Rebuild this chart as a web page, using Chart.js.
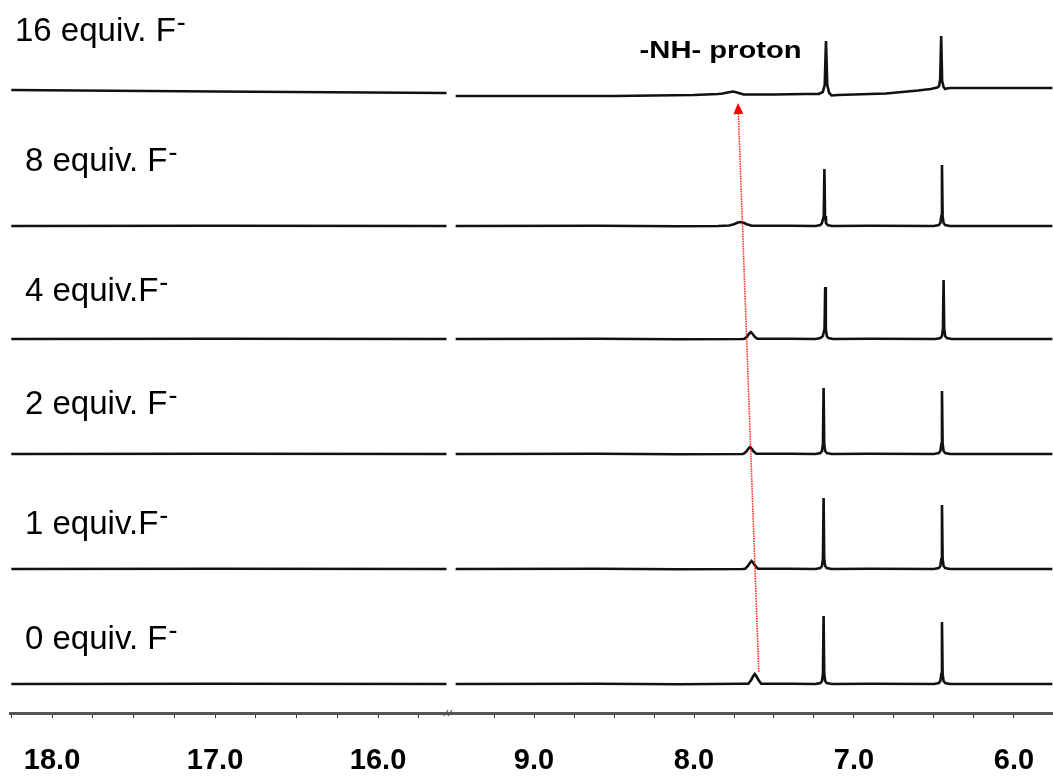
<!DOCTYPE html>
<html>
<head>
<meta charset="utf-8">
<script src="https://cdn.jsdelivr.net/npm/chart.js@4.4.1/dist/chart.umd.min.js"></script>
<style>
  html, body { margin: 0; padding: 0; background: #fff; }
  #wrap { width: 1053px; height: 776px; position: relative; }
</style>
</head>
<body>
<div id="wrap"><canvas id="nmr"></canvas></div>
<script>
// ---- data (ppm, intensity) ----
const traceLabels = ["16 equiv. F", "8 equiv. F", "4 equiv.F", "2 equiv. F", "1 equiv.F", "0 equiv. F"];
const tickLabelsL = ["18.0", "17.0", "16.0"];
const tickLabelsR = ["9.0", "8.0", "7.0", "6.0"];

// left window (18.2 - 15.6 ppm): only baseline
const spec16L = [[18.25, 5], [17.0, 3.5], [15.58, 2]];
const flatL = [[18.25, 0], [17.0, 0.3], [15.58, 0]];

// right window (9.5 - 5.8 ppm)
const spec16R = [[9.49, -1], [9.0, -1], [8.5, -1], [8.0, 0], [7.85, 1], [7.82, 1.5],
  [7.79, 2.5], [7.755, 3.5], [7.72, 2], [7.69, 0.5], [7.5, 0.5], [7.3, 1], [7.22, 1],
  [7.195, 3], [7.183, 10], [7.175, 54], [7.167, 10], [7.155, 2], [7.14, -0.5], [7.1, 0],
  [7.0, 0.5], [6.8, 1.5], [6.7, 3], [6.6, 4.5], [6.52, 6], [6.48, 7.5], [6.468, 9],
  [6.461, 16], [6.455, 59], [6.449, 14], [6.44, 8], [6.43, 6], [6.42, 6.5], [6.4, 7], [5.76, 7]];
const spec8R = [[9.49, 0], [8.6, 0.3], [8.1, -0.2], [7.85, 0], [7.78, 0.5], [7.75, 1.8],
  [7.73, 3.2], [7.71, 4], [7.69, 3.2], [7.67, 1.8], [7.64, 0.3], [7.4, 0.2], [7.24, 0],
  [7.21, 1], [7.2, 3], [7.189, 10], [7.185, 57], [7.181, 10], [7.175, 3], [7.165, 1],
  [7.14, 0], [6.9, 0.3], [6.5, 0], [6.47, 1], [6.46, 3], [6.454, 10], [6.45, 61],
  [6.446, 10], [6.44, 3], [6.43, 1], [6.4, 0], [5.76, 0]];
const spec4R = [[9.49, 0], [8.6, 0.3], [8.1, -0.2], [7.7, 0], [7.685, 0.3], [7.668, 2.5],
  [7.656, 5.2], [7.645, 7], [7.634, 5.2], [7.622, 2.5], [7.605, 0.3], [7.4, 0.2], [7.24, 0],
  [7.21, 1], [7.195, 3], [7.184, 10], [7.18, 52], [7.176, 10], [7.17, 3], [7.16, 1],
  [7.13, 0], [6.9, 0.3], [6.49, 0], [6.46, 1], [6.45, 3], [6.444, 10], [6.44, 59],
  [6.436, 10], [6.43, 3], [6.42, 1], [6.39, 0], [5.76, 0]];
const spec2R = [[9.49, 0], [8.6, 0.3], [8.1, -0.2], [7.7, 0], [7.69, 0.3], [7.673, 2.5],
  [7.661, 5.2], [7.65, 7], [7.639, 5.2], [7.627, 2.5], [7.61, 0.3], [7.4, 0.2], [7.24, 0],
  [7.21, 1], [7.2, 3], [7.194, 10], [7.19, 66], [7.186, 10], [7.18, 3], [7.17, 1],
  [7.14, 0], [6.9, 0.3], [6.5, 0], [6.47, 1], [6.46, 3], [6.454, 10], [6.45, 63],
  [6.446, 10], [6.44, 3], [6.43, 1], [6.4, 0], [5.76, 0]];
const spec1R = [[9.49, 0], [8.6, 0.3], [8.1, -0.2], [7.7, 0], [7.68, 0.3], [7.663, 3],
  [7.651, 6], [7.64, 8], [7.629, 6], [7.617, 3], [7.6, 0.3], [7.4, 0.2], [7.24, 0],
  [7.21, 1], [7.2, 3], [7.194, 10], [7.19, 71], [7.186, 10], [7.18, 3], [7.17, 1],
  [7.14, 0], [6.9, 0.3], [6.5, 0], [6.47, 1], [6.46, 3], [6.454, 10], [6.45, 64],
  [6.446, 10], [6.44, 3], [6.43, 1], [6.4, 0], [5.76, 0]];
const spec0R = [[9.49, 0], [8.6, 0.3], [8.1, -0.2], [7.7, 0.2], [7.66, 0.3], [7.643, 4],
  [7.631, 7.5], [7.62, 10], [7.609, 7.5], [7.597, 4], [7.58, 0.3], [7.4, 0.2], [7.24, 0],
  [7.21, 1], [7.2, 3], [7.194, 10], [7.19, 68], [7.186, 10], [7.18, 3], [7.17, 1],
  [7.14, 0], [6.9, 0.3], [6.5, 0], [6.47, 1], [6.46, 3], [6.454, 10], [6.45, 62],
  [6.446, 10], [6.44, 3], [6.43, 1], [6.4, 0], [5.76, 0]];

const rightTraces = [spec16R, spec8R, spec4R, spec2R, spec1R, spec0R];
const leftTraces = [spec16L, flatL, flatL, flatL, flatL, flatL];

// NH shift arrow: from 0 equiv (ppm, intensity) to 16 equiv (ppm, intensity)
const arrowFrom = [7.595, 12];
const arrowTo = [7.725, -8];
const nhText = "-NH- proton";
const nhTextAt = [8.34, 37];

// ------------------------------------------
const FONT = '"Liberation Sans", Arial, sans-serif';
const yIds = ["y5", "y4", "y3", "y2", "y1", "y0"];
const yRanges = [[-43, 72], [-27, 88], [-29, 86], [-29, 86], [-29, 86], [-29, 86]];
const labelLift = [54, 55, 38, 40, 35, 35];
const labelIndent = [5, 15, 15, 15, 15, 15];

const datasets = [];
yIds.forEach((id, i) => {
  datasets.push({ data: leftTraces[i], xAxisID: "xL", yAxisID: id });
  datasets.push({ data: rightTraces[i], xAxisID: "xR", yAxisID: id });
});

// keep chart.js from adding padding for the edge tick labels
const fixBox = (s) => {
  s.paddingLeft = 0; s.paddingRight = 0; s.paddingTop = 0; s.paddingBottom = 0;
  if (s.isHorizontal()) s.height = 63;
};

const scales = {};
yIds.forEach((id, i) => {
  scales[id] = {
    type: "linear", position: "right", display: false,
    stack: "spectra", stackWeight: 1,
    min: yRanges[i][0], max: yRanges[i][1],
    afterFit: fixBox,
  };
});

const ppmAxis = (min, max, weight, keep) => ({
  type: "linear", position: "bottom", reverse: true,
  stack: "ppm", stackWeight: weight, min: min, max: max,
  afterFit: fixBox,
  border: { display: true, color: "#555", width: 3 },
  grid: { drawOnChartArea: false, drawTicks: true, tickLength: 5, color: "#333", tickWidth: 1 },
  ticks: {
    stepSize: 0.25, includeBounds: false, autoSkip: false, maxRotation: 0,
    padding: 26, color: "#000",
    font: { family: FONT, size: 29, weight: "bold" },
    callback: (v) => (keep.includes(v.toFixed(1)) && v % 1 === 0 ? v.toFixed(1) : ""),
  },
});

scales.xL = ppmAxis(15.577, 18.258, 437, tickLabelsL);
scales.xGap = {
  type: "linear", position: "bottom", stack: "ppm", stackWeight: 8, min: 0, max: 1,
  afterFit: fixBox,
  border: { display: true, color: "#555", width: 3 },
  grid: { display: false }, ticks: { display: false },
};
scales.xR = ppmAxis(5.756, 9.494, 598, tickLabelsR);

const labelsPlugin = {
  id: "labels",
  afterDatasetsDraw(chart) {
    const c = chart.ctx;
    const left = chart.chartArea.left;
    c.save();
    c.fillStyle = "#000";
    c.textBaseline = "alphabetic";
    yIds.forEach((id, i) => {
      const y = chart.scales[id].getPixelForValue(labelLift[i]);
      const x = left + labelIndent[i];
      c.font = "33px " + FONT;
      c.fillText(traceLabels[i], x, y);
      const w = c.measureText(traceLabels[i]).width;
      c.font = "27px " + FONT;
      c.fillText("-", x + w + 1, y - 10);
    });

    // -NH- proton caption
    const tx = chart.scales.xR.getPixelForValue(nhTextAt[0]);
    const ty = chart.scales.y5.getPixelForValue(nhTextAt[1]);
    c.font = "bold 24px " + FONT;
    const tw = c.measureText(nhText).width;
    c.translate(tx, ty);
    c.scale(162 / tw, 1);
    c.fillText(nhText, 0, 0);
    c.restore();

    // red dotted arrow
    const x0 = chart.scales.xR.getPixelForValue(arrowFrom[0]);
    const y0 = chart.scales.y0.getPixelForValue(arrowFrom[1]);
    const x1 = chart.scales.xR.getPixelForValue(arrowTo[0]);
    const y1 = chart.scales.y5.getPixelForValue(arrowTo[1]);
    const ang = Math.atan2(y1 - y0, x1 - x0);
    const hl = 11, hw = 5;
    const bx = x1 - hl * Math.cos(ang), by = y1 - hl * Math.sin(ang);
    c.save();
    c.strokeStyle = "rgba(255,0,0,0.85)";
    c.lineWidth = 1.6;
    c.setLineDash([1.5, 1]);
    c.beginPath();
    c.moveTo(x0, y0);
    c.lineTo(bx, by);
    c.stroke();
    c.setLineDash([]);
    c.fillStyle = "#ff0000";
    c.beginPath();
    c.moveTo(x1, y1);
    c.lineTo(bx + hw * Math.sin(ang), by - hw * Math.cos(ang));
    c.lineTo(bx - hw * Math.sin(ang), by + hw * Math.cos(ang));
    c.closePath();
    c.fill();

    // axis break marks
    const g = chart.scales.xGap;
    c.strokeStyle = "#555";
    c.lineWidth = 1.2;
    c.beginPath();
    c.moveTo(g.left - 3, g.top + 3); c.lineTo(g.left + 1, g.top - 3);
    c.moveTo(g.left + 1, g.top + 3); c.lineTo(g.left + 5, g.top - 3);
    c.stroke();
    c.restore();
  },
};

new Chart(document.getElementById("nmr"), {
  type: "line",
  data: { datasets: datasets },
  options: {
    responsive: true,
    maintainAspectRatio: false,
    animation: false,
    events: [],
    layout: { padding: { left: 10, right: 0, top: 23, bottom: 0 } },
    elements: {
      line: { borderColor: "#111", borderWidth: 2.6, tension: 0, fill: false },
      point: { radius: 0 },
    },
    plugins: { legend: { display: false }, tooltip: { enabled: false } },
    scales: scales,
  },
  plugins: [labelsPlugin],
});
</script>
</body>
</html>
